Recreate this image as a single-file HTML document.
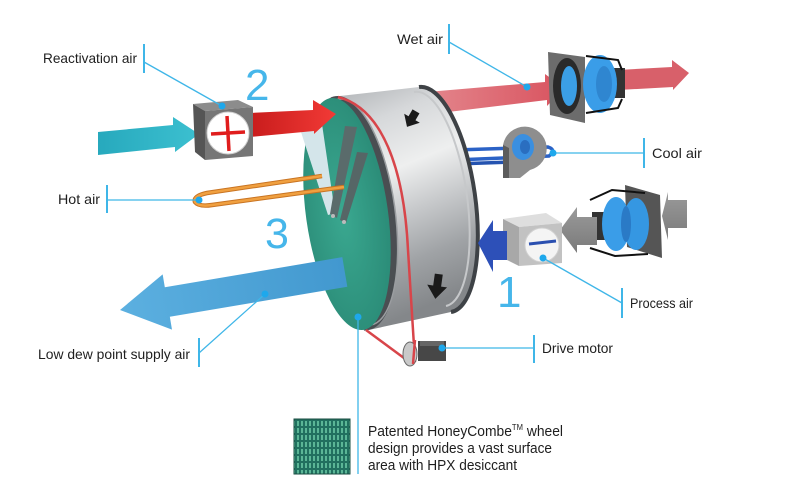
<!DOCTYPE html>
<html><head><meta charset="utf-8"><style>
html,body{margin:0;padding:0;background:#fff;}
svg{display:block;}
text{font-family:"Liberation Sans",sans-serif;}
</style></head><body>
<svg width="800" height="494" viewBox="0 0 800 494" xmlns="http://www.w3.org/2000/svg">
<defs>
<linearGradient id="silver" x1="0" y1="0" x2="0.25" y2="1">
<stop offset="0" stop-color="#aeb1b4"/>
<stop offset="0.2" stop-color="#d6d8da"/>
<stop offset="0.42" stop-color="#eeefef"/>
<stop offset="0.6" stop-color="#c8cacc"/>
<stop offset="0.8" stop-color="#a0a3a6"/>
<stop offset="1" stop-color="#84878a"/>
</linearGradient>
<radialGradient id="teal" cx="0.45" cy="0.5" r="0.6">
<stop offset="0" stop-color="#3aa890"/>
<stop offset="1" stop-color="#2a8a76"/>
</radialGradient>
<linearGradient id="redg" x1="0" y1="0" x2="1" y2="0">
<stop offset="0" stop-color="#c81c1c"/>
<stop offset="1" stop-color="#f23a36"/>
</linearGradient>
<linearGradient id="tealar" x1="0" y1="0" x2="1" y2="0">
<stop offset="0" stop-color="#27a9bd"/>
<stop offset="1" stop-color="#3cc0d0"/>
</linearGradient>
<linearGradient id="pink" x1="0" y1="0" x2="1" y2="0">
<stop offset="0" stop-color="#e48a90"/>
<stop offset="1" stop-color="#d9535f"/>
</linearGradient>
<linearGradient id="blue2" x1="0" y1="0" x2="1" y2="0">
<stop offset="0" stop-color="#5cb0e0"/>
<stop offset="1" stop-color="#4298cf"/>
</linearGradient>
<linearGradient id="grayar" x1="0" y1="0" x2="0" y2="1">
<stop offset="0" stop-color="#9a9a9a"/>
<stop offset="1" stop-color="#7a7a7a"/>
</linearGradient>
<pattern id="honey" width="4" height="7" patternUnits="userSpaceOnUse">
<rect width="4" height="7" fill="#21705f"/>
<rect x="1" y="1" width="2" height="5" fill="#5bb696"/>
</pattern>
</defs>

<!-- Wet air arrow (behind cylinder) -->
<polygon points="415,93 545,82 545,74 564,88 547,106 547,100 415,116" fill="url(#pink)"/>
<polygon points="618,70 672,67 672,60 689,73 673,90 673,87 618,90" fill="#d8606a"/>

<!-- cool air pipes (behind) -->
<path d="M455,150 L548,147 Q557,150 549,156 L455,160" fill="none" stroke="#2b62c6" stroke-width="3.5"/>
<path d="M455,164 L540,161" fill="none" stroke="#2453b0" stroke-width="3.5"/>

<!-- Cylinder body -->
<path d="M331,97 L419,87 A40 113 -8 0 1 451,312 L364,331 Z" fill="url(#silver)"/>
<path d="M419,87 A40 113 -8 0 1 451,312" fill="none" stroke="#3e4246" stroke-width="4"/>
<path d="M414,92 A37 108 -8 0 1 446,306" fill="none" stroke="#c6c8ca" stroke-width="2"/>
<!-- front rim -->
<ellipse cx="352" cy="213" rx="43" ry="118" transform="rotate(-8 352 213)" fill="#4a4e52"/>
<ellipse cx="355" cy="212" rx="40" ry="114" transform="rotate(-8 355 212)" fill="none" stroke="#9a9da0" stroke-width="1.5"/>
<!-- teal face -->
<ellipse cx="347" cy="214" rx="41" ry="117" transform="rotate(-8 347 214)" fill="url(#teal)"/>
<!-- V purge -->
<polygon points="301,132 322,124 335,213 328,215" fill="#d4e5ea"/>
<polygon points="345,126 357,127 337,218 330,214" fill="#5a6b6b"/>
<polygon points="357,152 368,153 346,223 340,220" fill="#566666"/>
<circle cx="333" cy="216" r="2" fill="#bbb"/>
<circle cx="344" cy="222" r="2" fill="#bbb"/>

<!-- belt -->
<path d="M338,97 C382,108 404,168 408,250 L415,362" fill="none" stroke="#d8454a" stroke-width="2.5"/>
<path d="M366,330 L408,361" fill="none" stroke="#d8454a" stroke-width="2.5"/>

<!-- black arrows on cylinder -->
<g transform="translate(411,120) rotate(30)"><polygon points="-4,-10 4,-10 4,-2 9,-2 0,8 -9,-2 -4,-2" fill="#1a1a1a"/></g>
<g transform="translate(437,287) rotate(8)"><polygon points="-4,-13 4,-13 4,-1 10,-1 0,12 -10,-1 -4,-1" fill="#1a1a1a"/></g>

<!-- hot air loop -->
<path d="M322,176 L207,193 Q193,196 195,202 Q199,207 212,205 L344,187" fill="none" stroke="#c97422" stroke-width="4.5"/>
<path d="M322,176 L207,193 Q193,196 195,202 Q199,207 212,205 L344,187" fill="none" stroke="#f0a040" stroke-width="2.5"/>

<!-- red reactivation arrow -->
<polygon points="250,113 313,110 313,100 336,114 314,134 314,131 250,137" fill="url(#redg)"/>
<!-- teal inlet arrow -->
<polygon points="98,132 173,125 173,117 199,134 175,152 175,147 98,155" fill="url(#tealar)"/>
<!-- heater box -->
<polygon points="193,104 238,100 253,107 205,111" fill="#8c8c8c"/>
<polygon points="193,104 205,111 205,160 195,152" fill="#555"/>
<polygon points="205,111 253,107 253,156 205,160" fill="#767676"/>
<circle cx="228" cy="133" r="21" fill="#fff" stroke="#cfcfcf"/>
<line x1="211" y1="134" x2="245" y2="132" stroke="#e01d1d" stroke-width="3.5"/>
<line x1="227" y1="116" x2="229" y2="151" stroke="#e01d1d" stroke-width="3.5"/>

<!-- low dew arrow -->
<polygon points="0,0 48,-28 48,-15 228,-15 228,15 48,15 48,28" transform="translate(120,310) rotate(-9.6)" fill="url(#blue2)"/>

<!-- cool air blower -->
<path d="M503,178 L503,145 A22 22 0 1 1 530,170 L520,178 Z" fill="#8e8e8e"/>
<path d="M503,178 L503,145 L509,148 L509,178 Z" fill="#5c5c5c"/>
<ellipse cx="523" cy="147" rx="11" ry="13" fill="#3a8fe0"/>
<ellipse cx="525" cy="147" rx="5" ry="7" fill="#2a6ec0"/>

<!-- top fan -->
<polygon points="548,52 585,57 585,123 550,115" fill="#6c6c6c"/>
<ellipse cx="567" cy="86" rx="14" ry="28" fill="#2a2a2a"/>
<ellipse cx="569" cy="86" rx="8" ry="20" fill="#3b9fe6"/>
<rect x="608" y="68" width="17" height="30" fill="#333"/>
<ellipse cx="600" cy="84" rx="17" ry="29" fill="#3a9de8"/>
<ellipse cx="604" cy="84" rx="8" ry="18" fill="#2f86d0"/>
<path d="M586,56 L618,60 L622,70 M586,113 L618,108 L622,99" fill="none" stroke="#111" stroke-width="2"/>

<!-- process section: right gray arrow -->
<polygon points="687,200 668,200 668,192 662,216 668,240 668,228 687,228" fill="url(#grayar)"/>
<!-- lower fan plate -->
<polygon points="625,185 660,195 662,258 627,247" fill="#555"/>
<rect x="592" y="212" width="14" height="28" fill="#333"/>
<ellipse cx="616" cy="224" rx="14" ry="27" fill="#3a9de8"/>
<ellipse cx="636" cy="224" rx="13" ry="26" fill="#3597e2"/>
<ellipse cx="626" cy="224" rx="5" ry="18" fill="#2a7ac6"/>
<path d="M590,200 L612,190 L645,193 M590,248 L615,256 L648,254" fill="none" stroke="#111" stroke-width="2"/>
<!-- middle gray arrow -->
<polygon points="597,217 577,217 577,207 560,230 577,253 577,245 597,245" fill="url(#grayar)"/>
<!-- cooler box -->
<polygon points="503,219 546,213 562,223 519,227" fill="#dedede"/>
<polygon points="503,219 519,227 519,266 503,258" fill="#a8a8a8"/>
<polygon points="519,227 562,223 562,263 519,266" fill="#c2c2c2"/>
<circle cx="542" cy="245" r="17" fill="#f4f4f4" stroke="#d0d0d0"/>
<line x1="529" y1="244" x2="556" y2="241" stroke="#2a4fb0" stroke-width="3"/>
<!-- process blue arrow -->
<polygon points="507,231 493,231 493,220 478,243 493,272 493,260 507,260" fill="#2d50b8"/>

<!-- motor -->
<rect x="418" y="341" width="28" height="20" fill="#474747"/>
<rect x="420" y="341" width="24" height="5" fill="#666"/>
<ellipse cx="410" cy="354" rx="7" ry="12" fill="#c9c9c9" stroke="#666"/>
<line x1="415" y1="340" x2="413" y2="364" stroke="#d8454a" stroke-width="2.5"/>

<!-- numbers -->
<text x="245" y="100" font-size="44" fill="#46b6ea">2</text>
<text x="265" y="248" font-size="43" fill="#46b6ea">3</text>
<text x="497" y="307" font-size="44" fill="#46b6ea">1</text>

<!-- leader lines -->
<g stroke="#3fb6e8" stroke-width="1.3" fill="none">
<line x1="144" y1="62" x2="222" y2="106"/>
<line x1="449" y1="42" x2="527" y2="87"/>
<line x1="553" y1="153" x2="644" y2="153"/>
<line x1="107" y1="200" x2="199" y2="200"/>
<line x1="543" y1="258" x2="622" y2="303"/>
<line x1="442" y1="348" x2="534" y2="348"/>
<line x1="265" y1="294" x2="199" y2="353"/>
<line x1="358" y1="317" x2="358" y2="474"/>
</g>
<g stroke="#3fb6e8" stroke-width="2" fill="none">
<line x1="144" y1="44" x2="144" y2="73"/>
<line x1="449" y1="24" x2="449" y2="54"/>
<line x1="644" y1="138" x2="644" y2="168"/>
<line x1="107" y1="185" x2="107" y2="213"/>
<line x1="622" y1="288" x2="622" y2="318"/>
<line x1="534" y1="335" x2="534" y2="363"/>
<line x1="199" y1="338" x2="199" y2="367"/>
</g>
<g fill="#1ea8ec">
<circle cx="222" cy="106" r="3.5"/>
<circle cx="527" cy="87" r="3.5"/>
<circle cx="553" cy="153" r="3.5"/>
<circle cx="199" cy="200" r="3.5"/>
<circle cx="543" cy="258" r="3.5"/>
<circle cx="442" cy="348" r="3.5"/>
<circle cx="265" cy="294" r="3.5"/>
<circle cx="358" cy="317" r="3.5"/>
</g>

<!-- labels -->
<g fill="#1e1e1e" font-size="14">
<text x="43" y="63" textLength="94" lengthAdjust="spacingAndGlyphs">Reactivation air</text>
<text x="397" y="44" textLength="46" lengthAdjust="spacingAndGlyphs">Wet air</text>
<text x="652" y="158" textLength="50" lengthAdjust="spacingAndGlyphs">Cool air</text>
<text x="58" y="204" textLength="42" lengthAdjust="spacingAndGlyphs">Hot air</text>
<text x="630" y="308" textLength="63" lengthAdjust="spacingAndGlyphs">Process air</text>
<text x="542" y="353" textLength="71" lengthAdjust="spacingAndGlyphs">Drive motor</text>
<text x="38" y="359" textLength="152" lengthAdjust="spacingAndGlyphs">Low dew point supply air</text>
</g>

<!-- honeycomb swatch -->
<rect x="294" y="419" width="56" height="55" fill="url(#honey)" stroke="#1a4d42" stroke-width="1"/>
<g fill="#1e1e1e" font-size="14.5">
<text x="368" y="436" textLength="195" lengthAdjust="spacingAndGlyphs">Patented HoneyCombe<tspan font-size="8" dy="-6">TM</tspan><tspan dy="6"> wheel</tspan></text>
<text x="368" y="453" textLength="184" lengthAdjust="spacingAndGlyphs">design provides a vast surface</text>
<text x="368" y="470" textLength="149" lengthAdjust="spacingAndGlyphs">area with HPX desiccant</text>
</g>
</svg>
</body></html>
